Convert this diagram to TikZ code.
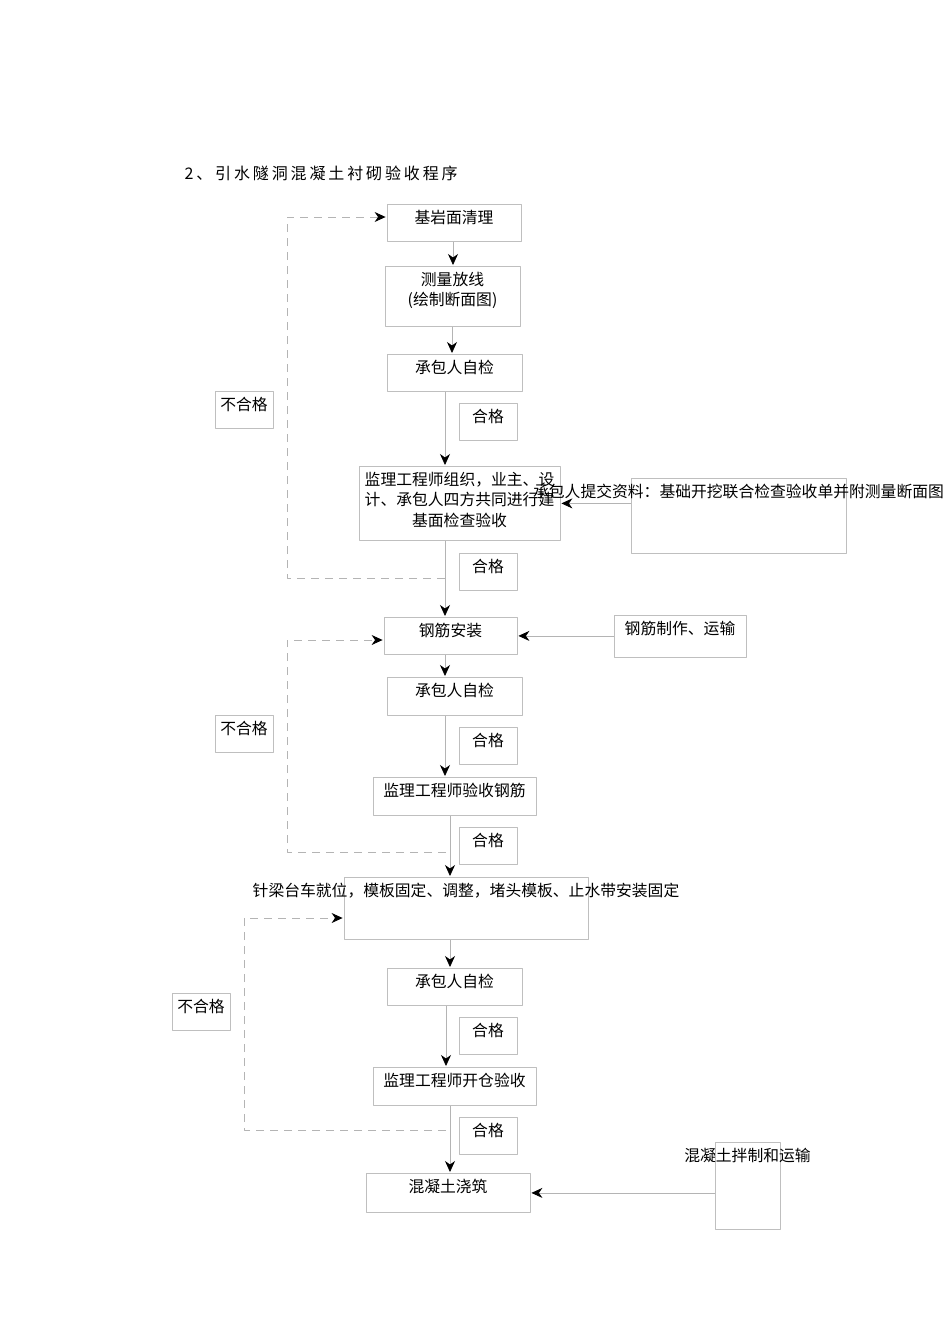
\documentclass[tikz,border=0pt]{standalone}
\usepackage{fontspec}
\setmainfont{Noto Sans CJK SC}
\newfontfamily\titlefont[LetterSpace=18]{Noto Sans CJK SC}
\usetikzlibrary{arrows.meta,calc}
\definecolor{boxgray}{HTML}{BFBFBF}
\definecolor{linegray}{HTML}{B4B4B4}

\tikzset{
  stepbox/.style={draw=boxgray,line width=0.8pt,inner xsep=0pt,inner ysep=0pt,
    anchor=north,align=center,text height=19pt,font=\fontsize{15.8}{20.5}\selectfont},
  flowline/.style={draw=linegray,line width=0.8pt,
    -{Stealth[length=11pt,width=10pt,inset=3.5pt,black]},shorten >=1pt},
  backline/.style={flowline,dash pattern=on 8pt off 6pt}
}

\begin{document}
\begin{tikzpicture}[x=1pt,y=-1pt,line join=round]
  \useasboundingbox (0,0) rectangle (950,1344);
  \node[anchor=west,font=\titlefont\fontsize{16}{18}\selectfont] (title) at (181,173) {2、引水隧洞混凝土衬砌验收程序};
  % main steps
  \node[stepbox,minimum width=134pt,text depth=18pt] (qingli) at (454,204) {基岩面清理};
  \node[stepbox,minimum width=135pt,text height=39.5pt,text depth=20.5pt] (celiang) at (452.5,266) {测量放线\\(绘制断面图)};
  \node[stepbox,minimum width=135pt,text depth=18pt] (zijian1) at (454.5,354) {承包人自检};
  \node[stepbox,minimum width=201pt,text height=60pt,text depth=14pt] (jianli1) at (459.5,466) {监理工程师组织，业主、设\\计、承包人四方共同进行建\\基面检查验收};
  \node[stepbox,minimum width=133pt,text depth=18pt] (gangjin) at (450.5,617) {钢筋安装};
  \node[stepbox,minimum width=135pt,text depth=19pt] (zijian2) at (454.5,677) {承包人自检};
  \node[stepbox,minimum width=163pt,text depth=19pt] (jianli2) at (454.5,777) {监理工程师验收钢筋};
  \node[stepbox,minimum width=244pt,text depth=43pt] (taiche) at (466,877) {\makebox[244pt]{针梁台车就位，模板固定、调整，堵头模板、止水带安装固定}};
  \node[stepbox,minimum width=135pt,text depth=18pt] (zijian3) at (454.5,968) {承包人自检};
  \node[stepbox,minimum width=163pt,text depth=19pt] (jianli3) at (454.5,1067) {监理工程师开仓验收};
  \node[stepbox,minimum width=164pt,text depth=20pt] (jiaozhu) at (448,1173) {混凝土浇筑};
  % side inputs
  \node[stepbox,minimum width=215pt,text depth=56pt] (ziliao) at (738.5,478) {\makebox[215pt]{承包人提交资料：基础开挖联合检查验收单并附测量断面图}};
  \node[stepbox,minimum width=132pt,text depth=23pt] (zhizuo) at (680,615) {钢筋制作、运输};
  \node[stepbox,minimum width=65pt,text depth=68pt] (banzhi) at (747.5,1142) {\makebox[65pt]{混凝土拌制和运输}};
  % pass / fail labels
  \foreach \name/\y in {hege1/403,hege2/553,hege3/727,hege4/827,hege5/1017,hege6/1117}{
    \node[stepbox,minimum width=58pt,text depth=18pt] (\name) at (488,\y) {合格};
  }
  \foreach \name/\x/\y in {buhege1/244/391,buhege2/244/715,buhege3/201/993}{
    \node[stepbox,minimum width=58pt,text depth=18pt] (\name) at (\x,\y) {不合格};
  }
  % flow
  \foreach \a/\b/\x in {qingli/celiang/453,celiang/zijian1/452,zijian1/jianli1/445,
      jianli1/gangjin/445,gangjin/zijian2/445,zijian2/jianli2/445,jianli2/taiche/450,
      taiche/zijian3/450,zijian3/jianli3/446,jianli3/jiaozhu/450}{
    \draw[flowline] (\a.south -| \x,0) -- (\b.north -| \x,0);
  }
  \draw[flowline] (ziliao.west |- jianli1.east) -- (jianli1.east);
  \draw[flowline] (zhizuo.west |- gangjin.east) -- (gangjin.east);
  \draw[flowline] (banzhi.west |- jiaozhu.east) -- (jiaozhu.east);
  % rework loops
  \coordinate (back1) at (445,578);  \coordinate (turn1) at (287,217);
  \coordinate (back2) at (446,852);  \coordinate (turn2) at (287,640);
  \coordinate (back3) at (446,1130); \coordinate (turn3) at (244,918);
  \draw[backline] (back1) -| (turn1) -- (turn1 -| qingli.west);
  \draw[backline] (back2) -| (turn2) -- (turn2 -| gangjin.west);
  \draw[backline] (back3) -| (turn3) -- (turn3 -| taiche.west);
\end{tikzpicture}
\end{document}
